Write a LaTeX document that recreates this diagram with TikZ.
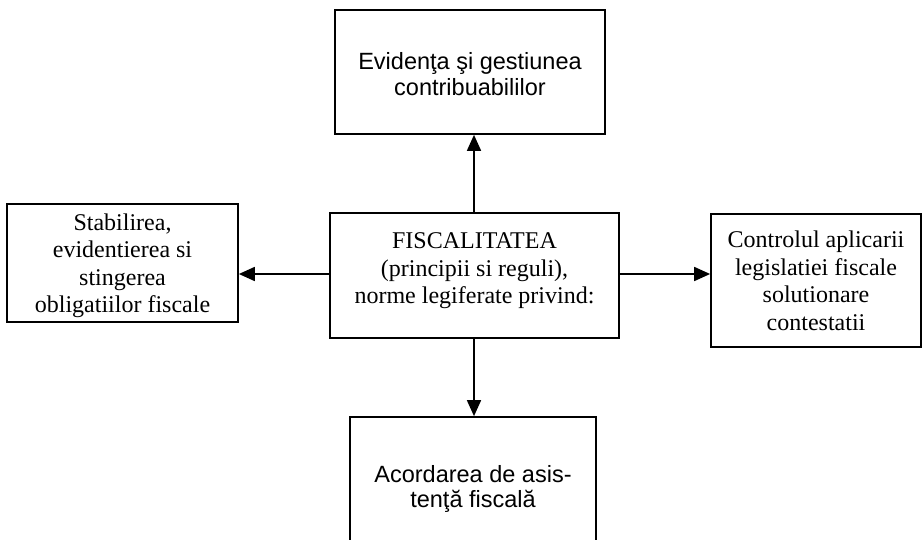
\documentclass[tikz,border=0pt]{standalone}
\usepackage{fontspec}
\setmainfont{Liberation Serif}
\newfontfamily\arialfont{Liberation Sans}
\usetikzlibrary{arrows.meta}
\begin{document}
\begin{tikzpicture}[x=1pt,y=-1pt,
  box/.style={draw, line width=1.7pt, inner sep=0pt},
  stext/.style={align=center, inner sep=0pt, font=\fontsize{24}{27.5}\selectfont},
  atext/.style={align=center, inner sep=0pt, font=\arialfont\fontsize{23.5}{25.5}\selectfont},
  conn/.style={line width=1.7pt, -{Triangle[length=16pt,width=14pt]}}]
\clip (0,0) rectangle (923,540);
\fill[white] (0,0) rectangle (923,540);
% boxes
\node[box, minimum width=270pt, minimum height=124pt] (top) at (470,72) {};
\node[box, minimum width=289pt, minimum height=125pt] (c) at (474.5,275.5) {};
\node[box, minimum width=231pt, minimum height=118pt] (l) at (122.5,263) {};
\node[box, minimum width=210pt, minimum height=133pt] (r) at (816,280.5) {};
\node[box, minimum width=246pt, minimum height=143pt] (b) at (473,488.5) {};
% texts
\node[atext] (topt) at (470,74) {Evidenţa şi gestiunea\\contribuabililor};
\node[stext] (ct) at (474.5,271) {FISCALITATEA\\(principii si reguli),\\norme legiferate privind:};
\node[stext] (lt) at (122.5,266) {Stabilirea,\\evidentierea si\\stingerea\\obligatiilor fiscale};
\node[stext] (rt) at (816,281) {Controlul aplicarii\\legislatiei fiscale\\solutionare\\contestatii};
\node[atext] (bt) at (473,489) {Acordarea de asis-\\tenţă fiscală};
% connectors
\coordinate (vx) at (474,0);
\coordinate (hy) at (0,274);
\draw[conn] (c.north -| vx) -- (top.south -| vx);
\draw[conn] (c.south -| vx) -- (b.north -| vx);
\draw[conn] (c.west |- hy) -- (l.east |- hy);
\draw[conn] (c.east |- hy) -- (r.west |- hy);
\end{tikzpicture}
\end{document}
